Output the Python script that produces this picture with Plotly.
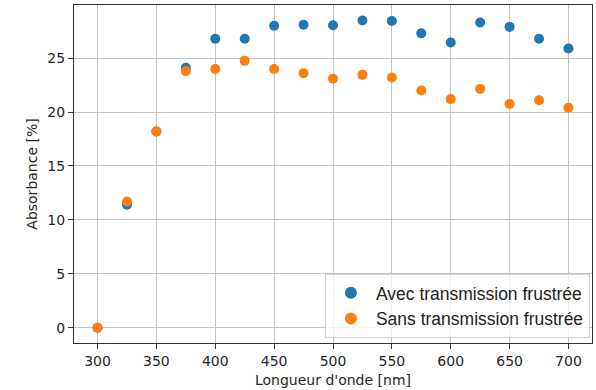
import plotly.graph_objects as go

wavelength = [300, 325, 350, 375, 400, 425, 450, 475, 500, 525, 550, 575, 600, 625, 650, 675, 700]
avec = [0.0, 11.4, 18.2, 24.1, 26.8, 26.8, 28.0, 28.1, 28.05, 28.5, 28.45, 27.3, 26.45, 28.3, 27.9, 26.8, 25.9]
sans = [0.0, 11.7, 18.2, 23.8, 24.0, 24.75, 24.0, 23.6, 23.1, 23.45, 23.2, 22.0, 21.2, 22.15, 20.75, 21.1, 20.4]

fig = go.Figure()
fig.add_trace(go.Scatter(x=wavelength, y=avec, mode="markers", name="Avec transmission frustrée",
                         marker=dict(color="#1f77b4", size=10)))
fig.add_trace(go.Scatter(x=wavelength, y=sans, mode="markers", name="Sans transmission frustrée",
                         marker=dict(color="#ff7f0e", size=10)))

axis_common = dict(showgrid=True, gridcolor="#c4c4c4", gridwidth=1, showline=True, linecolor="#333333",
                   linewidth=1.2, mirror=True, ticks="outside", ticklen=5, tickcolor="#333333",
                   tickfont=dict(family="DejaVu Sans", size=14, color="#262626"), zeroline=False)

fig.update_layout(
    width=596, height=390,
    margin=dict(l=74, r=4, t=5, b=47),
    paper_bgcolor="white", plot_bgcolor="white",
    xaxis=dict(range=[280, 720], tickvals=list(range(300, 701, 50)),
               title=dict(text="Longueur d'onde [nm]", font=dict(family="DejaVu Sans", size=14, color="#262626"), standoff=7),
               **axis_common),
    yaxis=dict(range=[-1.42, 29.93], tickvals=[0, 5, 10, 15, 20, 25],
               title=dict(text="Absorbance [%]", font=dict(family="DejaVu Sans", size=14, color="#262626"), standoff=6),
               **axis_common),
    legend=dict(x=0.996, y=0.015, xanchor="right", yanchor="bottom",
                bgcolor="rgba(255,255,255,0.8)", bordercolor="#d0d0d0", borderwidth=1,
                font=dict(family="Liberation Sans", size=17.5, color="#222222"),
                itemsizing="constant", itemwidth=40, tracegroupgap=0),
    showlegend=True,
)

fig.write_html("out.html", config={"displayModeBar": False},
               post_script="document.body.style.margin='0px';")
